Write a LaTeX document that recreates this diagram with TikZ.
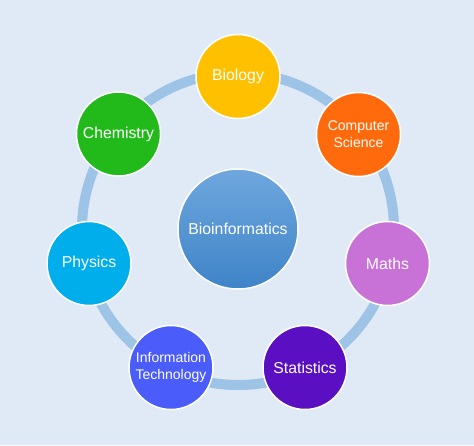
\documentclass[tikz,border=0pt]{standalone}
\usepackage{fontspec}
\setmainfont{Liberation Sans}
\definecolor{bg}{HTML}{DFEAF6}
\definecolor{ring}{HTML}{9DC3E6}
\definecolor{cbio}{HTML}{FFC000}
\definecolor{ccs}{HTML}{FF6A0C}
\definecolor{cmath}{HTML}{C872D8}
\definecolor{cstat}{HTML}{5A10C2}
\definecolor{cit}{HTML}{4A5CFA}
\definecolor{cphy}{HTML}{00AEEC}
\definecolor{cchem}{HTML}{22BA1A}
\definecolor{ctop}{HTML}{6FA7DE}
\definecolor{cbot}{HTML}{3E84C8}
\begin{document}
\begin{tikzpicture}[x=1pt,y=-1pt,
  disc/.style={circle, draw=white, line width=1.5pt, minimum size=84pt, inner sep=0pt,
    text=white, font=\fontsize{15.8}{18}\selectfont, align=center},
  small/.style={font=\fontsize{14}{16.7}\selectfont}]
\fill[bg] (0,0) rectangle (474,445);
\useasboundingbox (0,0) rectangle (474,445);
\coordinate (c) at (238,229);
\draw[ring, line width=10pt] (c) circle[radius=156];
\node[disc, minimum size=120pt, top color=ctop, bottom color=cbot] (bio) at (c) {Bioinformatics};
\node[disc, fill=cbio] (biology) at (238,76.5) {Biology};
\node[disc, fill=ccs, small] (cs) at (358.5,134.5) {Computer\\Science};
\node[disc, fill=cmath] (maths) at (387.5,263.5) {Maths};
\node[disc, fill=cstat] (stat) at (305,367.5) {Statistics};
\node[disc, fill=cit, small] (it) at (171,367.5) {Information\\Technology};
\node[disc, fill=cphy] (phys) at (89,263.5) {Physics};
\node[disc, fill=cchem] (chem) at (118.5,134) {Chemistry};
\end{tikzpicture}
\end{document}
